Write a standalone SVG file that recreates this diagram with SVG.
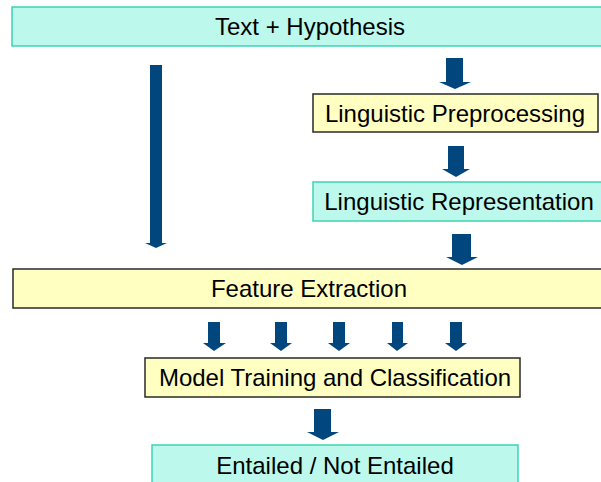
<svg xmlns="http://www.w3.org/2000/svg" width="601" height="482" viewBox="0 0 601 482">
<style>
.teal{fill:#BCF8EC;stroke:#3FD2B2;stroke-width:1.5}
.yel{fill:#FFFFC2;stroke:#2A2A2A;stroke-width:1.5}
.lbl{font-family:"Liberation Sans",Arial,sans-serif;font-size:24px;fill:#000;text-anchor:middle}
.arr{fill:#02467E}
</style>
<rect width="601" height="482" fill="#fff"/>
<g id="connectors">
<polygon class="arr" points="150,65 162,65 162,243 167,243 156,248 145,243 150,243"/>
<polygon class="arr" points="446,58 463,58 463,82 471,82 455,89 439,82 446,82"/>
<polygon class="arr" points="448,146 464,146 464,169 470,169 456,177 442,169 448,169"/>
<polygon class="arr" points="452,234 471,234 471,257 478,257 462,265 446,257 452,257"/>
<polygon class="arr" points="208,322 220,322 220,343 226,343 214,351 203,343 208,343"/>
<polygon class="arr" points="275,322 287,322 287,343 292,343 281,351 270,343 275,343"/>
<polygon class="arr" points="333,322 345,322 345,343 350,343 339,351 328,343 333,343"/>
<polygon class="arr" points="392,322 403,322 403,343 408,343 397,351 387,343 392,343"/>
<polygon class="arr" points="450,322 462,322 462,343 467,343 456,351 445,343 450,343"/>
<polygon class="arr" points="314,409 331,409 331,432 339,432 323,440 307,432 314,432"/>
</g>
<g id="text-hypothesis">
<rect class="teal" x="12" y="7" width="600" height="39"/>
<text class="lbl" x="310" y="35">Text + Hypothesis</text>
</g>
<g id="linguistic-preprocessing">
<rect class="yel" x="313" y="94" width="285" height="38"/>
<text class="lbl" x="455" y="122">Linguistic Preprocessing</text>
</g>
<g id="linguistic-representation">
<rect class="teal" x="313" y="182" width="292" height="39"/>
<text class="lbl" x="459" y="210">Linguistic Representation</text>
</g>
<g id="feature-extraction">
<rect class="yel" x="13" y="269" width="600" height="39"/>
<text class="lbl" x="309" y="297">Feature Extraction</text>
</g>
<g id="model-training">
<rect class="yel" x="145" y="358" width="375" height="39"/>
<text class="lbl" x="335" y="386">Model Training and Classification</text>
</g>
<g id="entailed">
<rect class="teal" x="152" y="445" width="366" height="40"/>
<text class="lbl" x="335" y="474">Entailed / Not Entailed</text>
</g>
</svg>
